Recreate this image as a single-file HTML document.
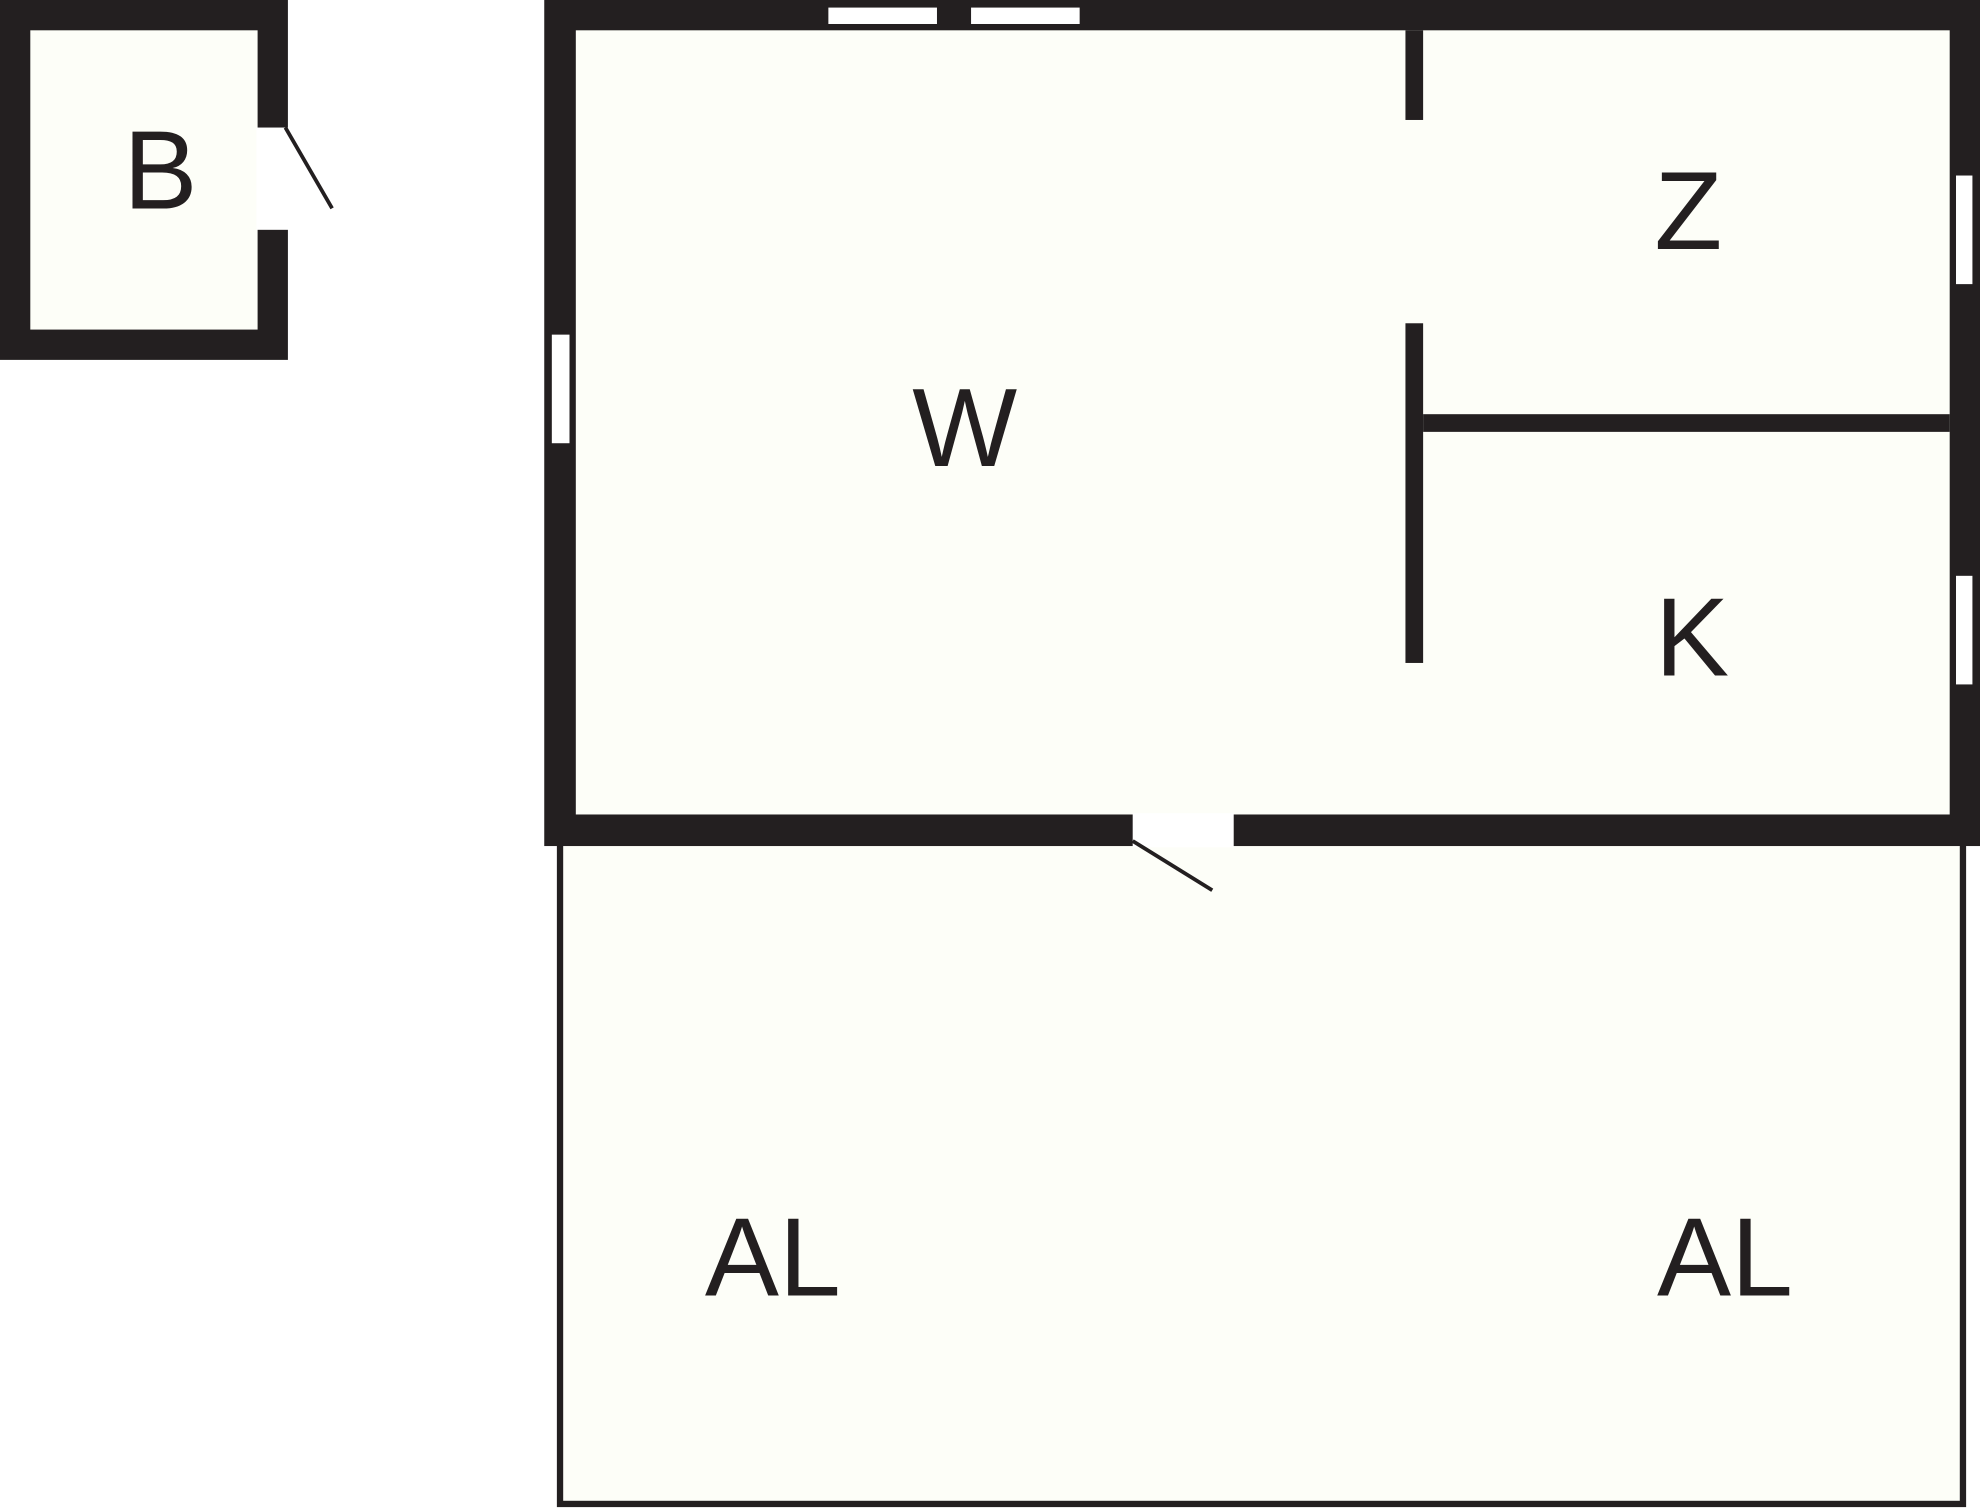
<!DOCTYPE html>
<html><head><style>html,body{margin:0;padding:0;background:#fff}svg{display:block}</style></head><body>
<svg width="1980" height="1509" viewBox="0 0 1568 1195" xmlns="http://www.w3.org/2000/svg">
<rect width="1568" height="1195" fill="#fff"/>
<!-- B -->
<rect x="0" y="0" width="228" height="285" fill="#231f20"/>
<rect x="24" y="24" width="180" height="237" fill="#fdfef8"/>
<rect x="203" y="101" width="26" height="81" fill="#fff"/>
<line x1="226" y1="101" x2="263" y2="165" stroke="#231f20" stroke-width="3"/>
<!-- AL -->
<rect x="443.5" y="660" width="1111" height="531" fill="#fdfef8" stroke="#231f20" stroke-width="5"/>
<!-- main -->
<rect x="431" y="0" width="1137" height="670" fill="#231f20"/>
<rect x="456" y="24" width="1088" height="621" fill="#fdfef8"/>
<rect x="656" y="6" width="86" height="13" fill="#fff"/>
<rect x="769" y="6" width="86" height="13" fill="#fff"/>
<rect x="437" y="265" width="14" height="86" fill="#fff"/>
<rect x="1549" y="139" width="13" height="86" fill="#fff"/>
<rect x="1549" y="456" width="13" height="86" fill="#fff"/>
<rect x="1113" y="24" width="14" height="71" fill="#231f20"/>
<rect x="1113" y="256" width="14" height="269" fill="#231f20"/>
<rect x="1127" y="328" width="417" height="14" fill="#231f20"/>
<rect x="897" y="644" width="80" height="27" fill="#fff"/>
<rect x="897" y="644" width="80" height="27" fill="#fdfef8" opacity="0"/>
<line x1="897" y1="666" x2="960" y2="705" stroke="#231f20" stroke-width="3"/>
<g font-family="Liberation Sans, sans-serif" font-size="88" fill="#231f20" text-anchor="middle">
<text x="127" y="165">B</text>
<text x="764" y="369">W</text>
<text x="1337" y="197">Z</text>
<text x="1340" y="535">K</text>
<text x="612" y="1026">AL</text>
<text x="1366" y="1026">AL</text>
</g>
</svg>
</body></html>
